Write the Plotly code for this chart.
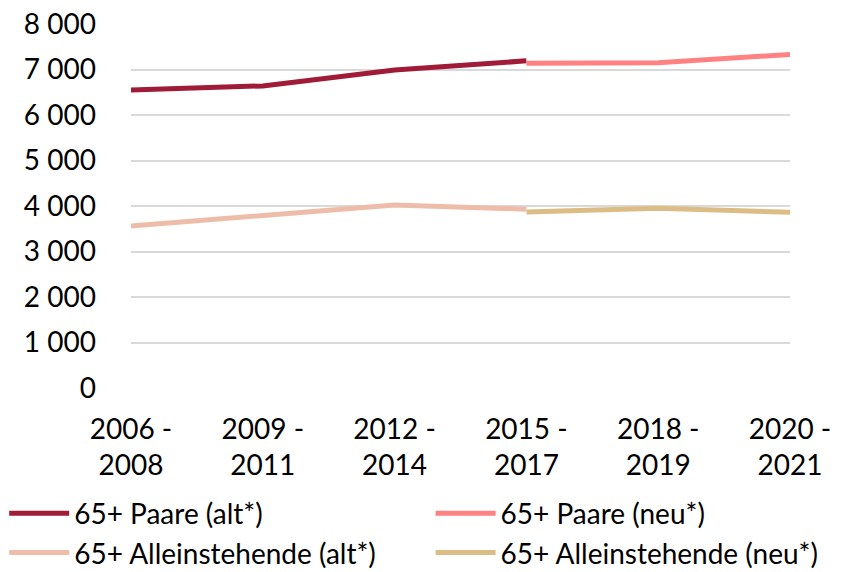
import plotly.graph_objects as go

categories = ["2006 -<br>2008", "2009 -<br>2011", "2012 -<br>2014", "2015 -<br>2017", "2018 -<br>2019", "2020 -<br>2021"]
paare_alt = [6550, 6640, 6990, 7190, None, None]
paare_neu = [None, None, None, 7140, 7150, 7330]
allein_alt = [3560, 3790, 4020, 3930, None, None]
allein_neu = [None, None, None, 3870, 3950, 3860]
y_ticks = [0, 1000, 2000, 3000, 4000, 5000, 6000, 7000, 8000]
y_tick_labels = ["0", "1 000", "2 000", "3 000", "4 000", "5 000", "6 000", "7 000", "8 000"]

series = [
    ("65+ Paare (alt*)", paare_alt, "#A01B37", "legend"),
    ("65+ Paare (neu*)", paare_neu, "#FF8181", "legend2"),
    ("65+ Alleinstehende (alt*)", allein_alt, "#EDBDAA", "legend"),
    ("65+ Alleinstehende (neu*)", allein_neu, "#DDBD86", "legend2"),
]

fig = go.Figure()
for name, vals, color, lg in series:
    fig.add_trace(go.Scatter(x=categories, y=vals, name=name, mode="lines",
                             line=dict(color=color, width=5), connectgaps=False,
                             legend=lg))

FONT = "Lato"
FS = 28
leg_common = dict(orientation="v", xanchor="left", xref="container",
                  yanchor="top", yref="container", y=0.146,
                  font=dict(family=FONT, size=FS), itemwidth=60,
                  bgcolor="rgba(0,0,0,0)", borderwidth=0)
fig.update_layout(
    width=841, height=572,
    margin=dict(l=131, r=51, t=24, b=184, autoexpand=False),
    paper_bgcolor="white", plot_bgcolor="white",
    font=dict(family=FONT, size=FS, color="#000000"),
    showlegend=True,
    legend=dict(x=0.005, **leg_common),
    legend2=dict(x=0.512, **leg_common),
    xaxis=dict(type="category", range=[0, 5], showgrid=False, zeroline=False,
               showline=False, ticks="", tickfont=dict(size=FS), ticklabelstandoff=22),
    yaxis=dict(range=[0, 8000], tickvals=y_ticks, ticktext=y_tick_labels,
               showgrid=True, gridcolor="#D9D9D9", gridwidth=1.5, zeroline=False,
               showline=False, ticks="", tickfont=dict(size=FS), ticklabelstandoff=34),
)

fig.write_html("out.html", config={"displayModeBar": False},
               post_script="document.body.style.margin='0';")
